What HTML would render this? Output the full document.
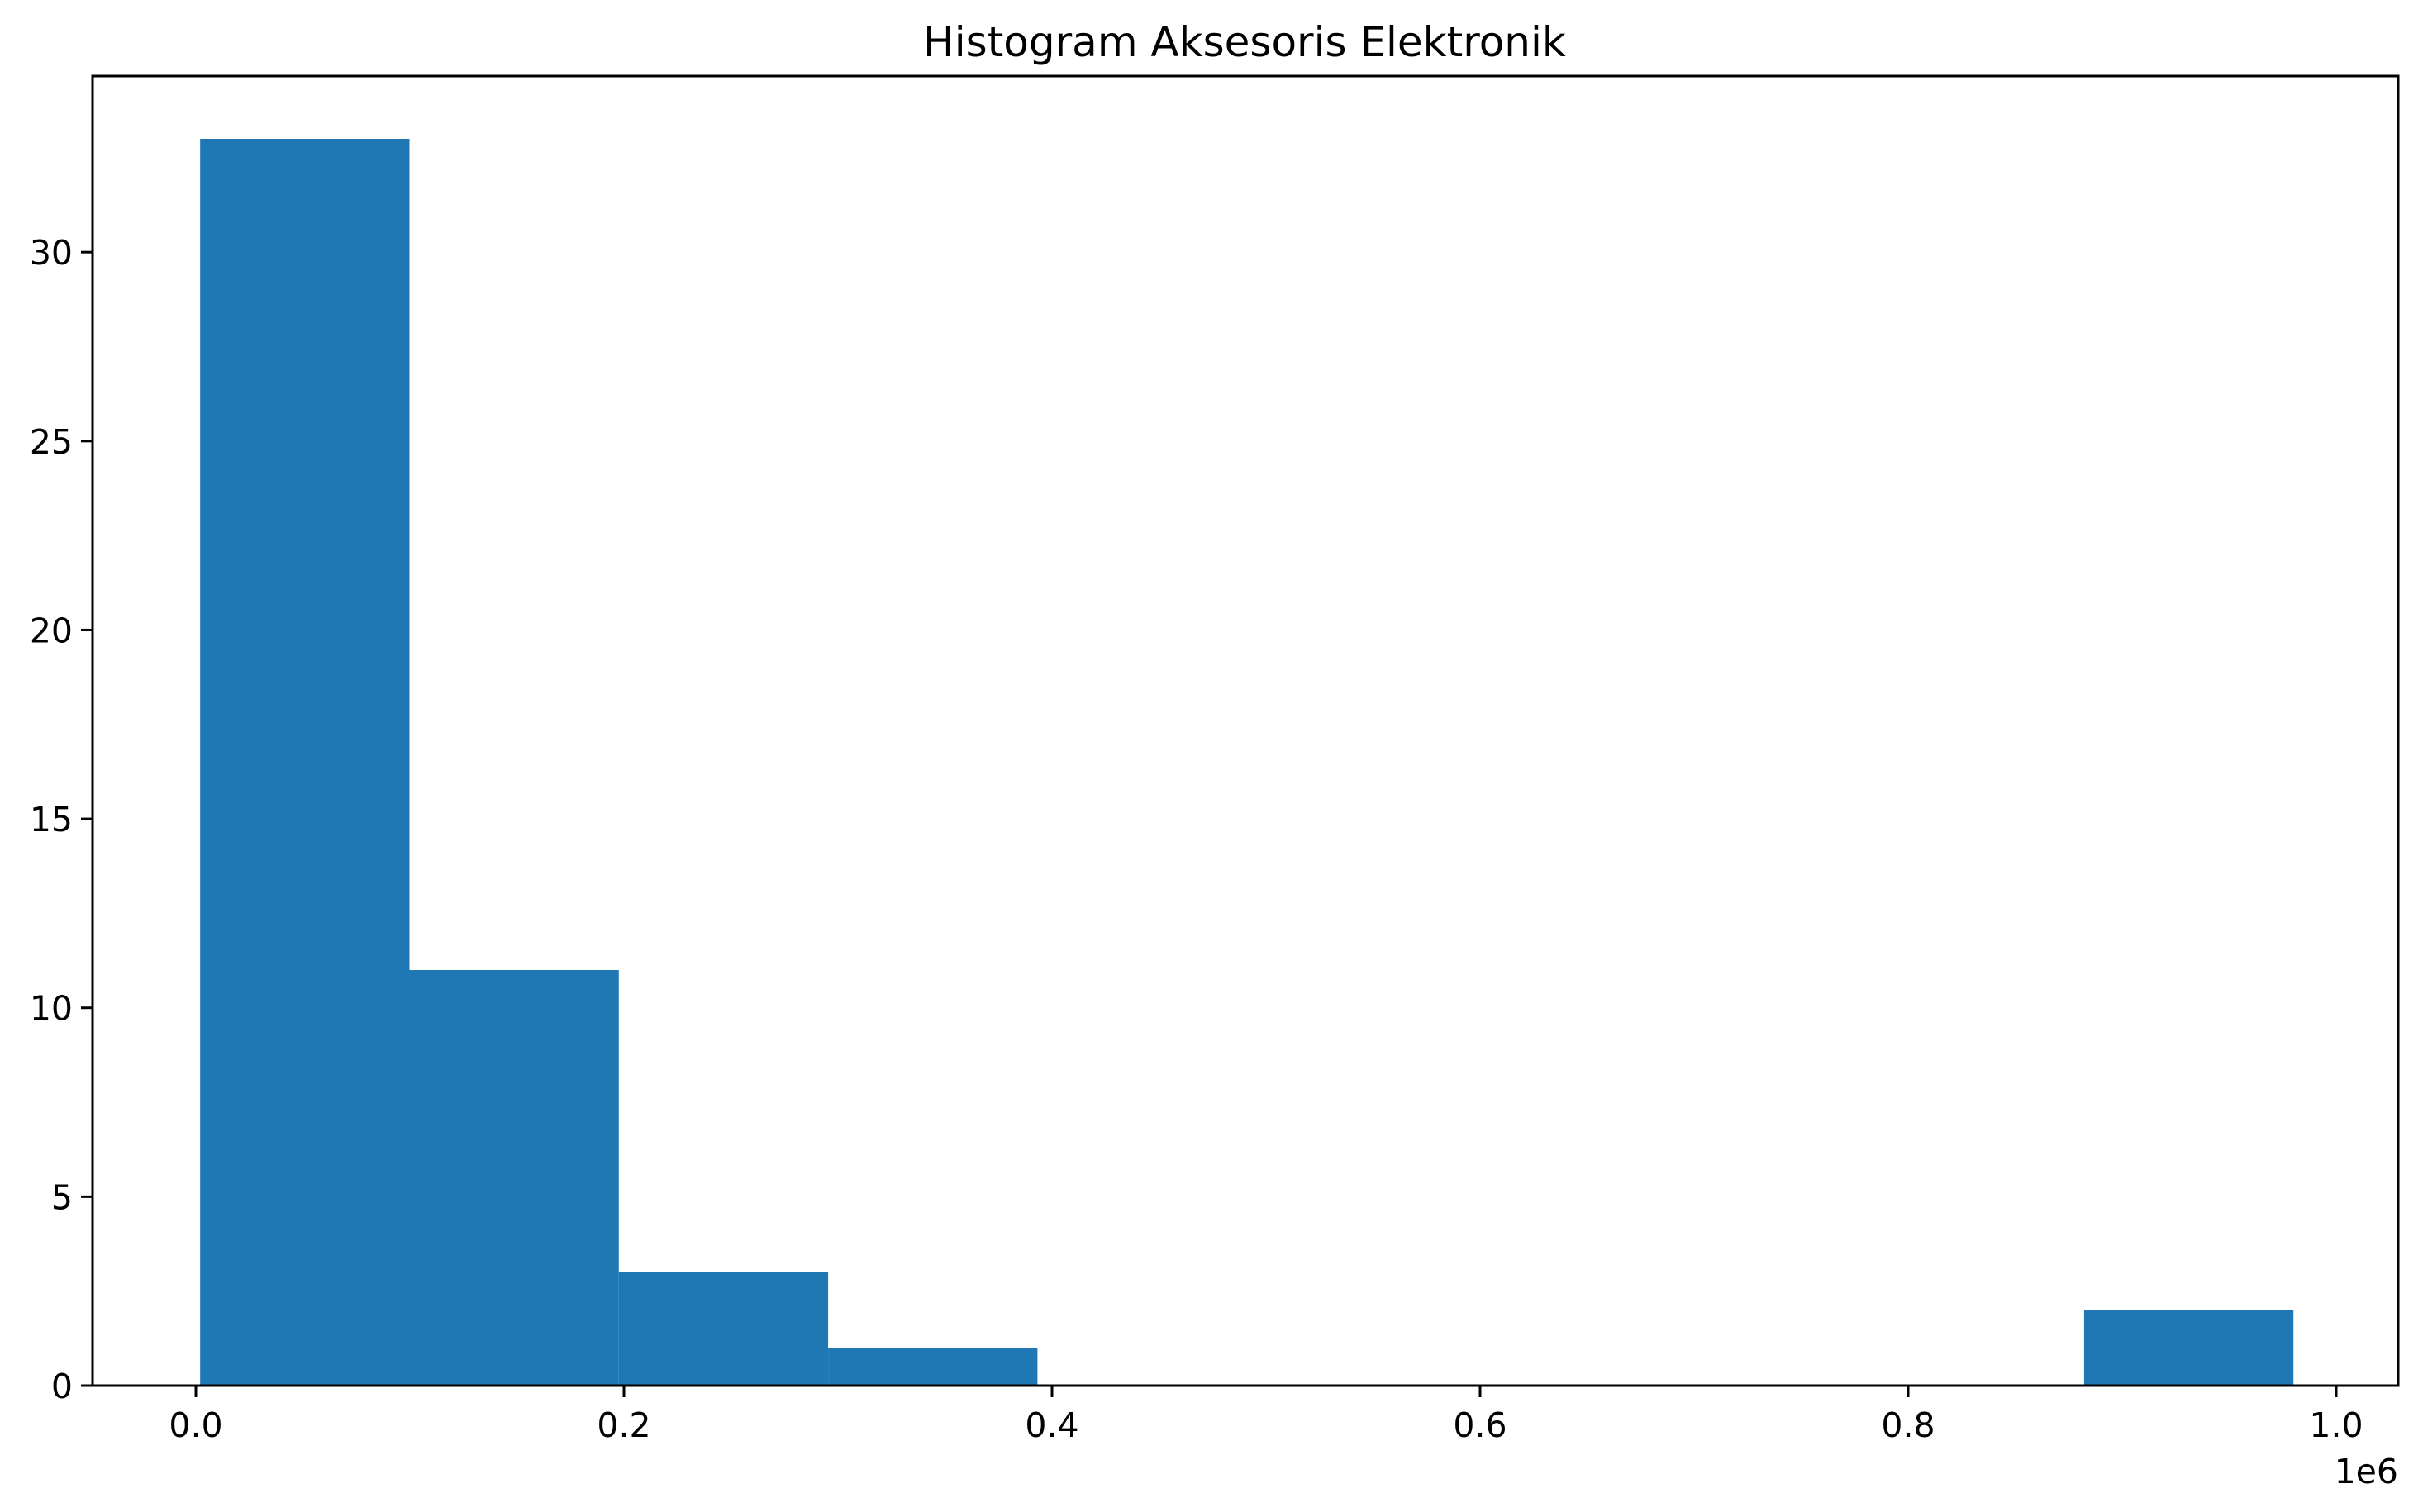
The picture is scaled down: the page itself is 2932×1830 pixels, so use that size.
<!DOCTYPE html>
<html><head><meta charset="utf-8"><style>
html,body{margin:0;padding:0;background:#fff;}
svg{display:block;font-family:"DejaVu Sans","Liberation Sans",sans-serif;}
</style></head><body>
<svg id="chart" width="2932" height="1830" viewBox="0 0 2932 1830">
<text x="1506" y="68" text-anchor="middle" font-size="50" fill="#000">Histogram Aksesoris Elektronik</text>
<g id="bars"></g>
<g id="axes"></g>
</svg>
<script>
const binEdgeStart = 2000;
const binWidth = 97800;
const counts = [33, 11, 3, 1, 0, 0, 0, 0, 0, 2];
const xTicks = [0, 200000, 400000, 600000, 800000, 1000000];
const xTickLabels = ["0.0", "0.2", "0.4", "0.6", "0.8", "1.0"];
const yTicks = [0, 5, 10, 15, 20, 25, 30];
const yTickLabels = ["0", "5", "10", "15", "20", "25", "30"];

const L = 112, R = 2902, T = 92, B = 1677;
const x0px = 237, xScale = 2590 / 1e6;
const yScale = (B - 168) / 33;
const xp = v => x0px + v * xScale;
const yp = v => B - v * yScale;
const NS = "http://www.w3.org/2000/svg";
function mk(tag, attrs, parent) {
  const e = document.createElementNS(NS, tag);
  for (const k in attrs) e.setAttribute(k, attrs[k]);
  parent.appendChild(e);
  return e;
}
const bars = document.getElementById('bars');
counts.forEach((c, i) => {
  if (c <= 0) return;
  const a = binEdgeStart + i * binWidth, b = a + binWidth;
  const r = mk('rect', {x: xp(a), y: yp(c), width: xp(b) - xp(a), height: yp(0) - yp(c), fill: '#1f77b4'}, bars);
  
  
});
const axes = document.getElementById('axes');
const frame = mk('rect', {x: L, y: T, width: R - L, height: B - T, fill: 'none', stroke: '#000', 'stroke-width': 3}, axes);


xTicks.forEach((v, i) => {
  const x = xp(v);
  const t = mk('line', {x1: x, x2: x, y1: B, y2: B + 14, stroke: '#000', 'stroke-width': 3}, axes);
  
  
  const l = mk('text', {x: x, y: B + 62, 'text-anchor': 'middle', 'font-size': 41, fill: '#000'}, axes);
  l.textContent = xTickLabels[i];
  
  
});
yTicks.forEach((v, i) => {
  const y = yp(v);
  const t = mk('line', {x1: L - 14, x2: L, y1: y, y2: y, stroke: '#000', 'stroke-width': 3}, axes);
  
  
  const l = mk('text', {x: L - 24, y: y + 15, 'text-anchor': 'end', 'font-size': 41, fill: '#000'}, axes);
  l.textContent = yTickLabels[i];
  
  
});
const off = mk('text', {x: R, y: B + 118, 'text-anchor': 'end', 'font-size': 41, fill: '#000'}, axes);
off.textContent = '1e6';


</script>
</body></html>
